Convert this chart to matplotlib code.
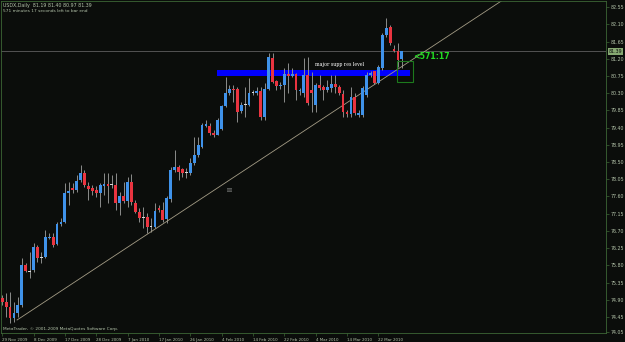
import matplotlib.pyplot as plt
import matplotlib.transforms as mtransforms
from matplotlib.patches import Rectangle
import numpy as np

# daily USDX candles (oldest first)
opens = [74.94, 74.84, 74.71, 74.42, 74.55, 74.76, 75.80, 75.62, 75.67, 76.27,
         75.98, 76.01, 76.51, 76.53, 76.35, 76.87, 76.93, 77.68, 77.82, 77.76,
         78.02, 78.21, 77.87, 77.82, 77.76, 77.68, 77.87, 77.92, 77.89, 77.89,
         77.42, 77.61, 77.48, 77.97, 77.42, 77.19, 77.05, 77.05, 76.80, 76.80,
         77.29, 77.24, 77.00, 77.53, 78.29, 78.37, 78.31, 78.21, 78.21, 78.47,
         78.68, 78.89, 79.44, 79.44, 79.26, 79.20, 79.36, 79.96, 80.30, 80.40,
         80.40, 79.83, 79.98, 79.98, 80.30, 80.30, 80.35, 79.67, 80.40, 81.21,
         80.61, 80.48, 80.51, 80.80, 80.74, 80.80, 80.35, 80.30, 80.77, 80.38,
         79.98, 80.51, 80.46, 80.38, 80.43, 80.53, 80.46, 80.27, 79.80, 79.75,
         80.20, 79.72, 79.72, 80.25, 80.77, 80.87, 80.56, 80.95, 81.82, 82.03,
         81.46, 81.40, 81.19]
highs = [75.02, 75.07, 75.10, 74.84, 74.96, 75.98, 75.85, 76.14, 76.38, 76.33,
         76.14, 76.72, 76.64, 76.64, 76.93, 77.03, 77.95, 77.97, 77.95, 78.16,
         78.42, 78.29, 77.97, 77.89, 77.87, 77.95, 78.21, 78.21, 78.16, 78.21,
         77.71, 77.97, 78.10, 78.18, 77.50, 77.29, 77.32, 77.16, 77.03, 77.42,
         77.37, 77.45, 77.61, 78.37, 78.81, 78.42, 78.34, 78.34, 78.60, 79.15,
         79.15, 79.52, 79.59, 79.52, 79.33, 79.65, 79.98, 80.72, 80.51, 80.51,
         80.46, 80.07, 80.46, 80.69, 80.38, 80.46, 80.46, 80.56, 81.34, 81.34,
         80.64, 80.59, 80.95, 81.08, 80.95, 80.82, 80.43, 81.21, 81.24, 80.85,
         80.56, 80.77, 80.51, 80.64, 80.77, 80.77, 80.51, 80.38, 79.85, 80.46,
         80.30, 79.85, 80.48, 80.85, 80.87, 80.87, 81.03, 81.87, 82.26, 82.08,
         81.56, 81.61, 81.40]
lows = [74.76, 74.44, 74.29, 74.31, 74.44, 74.71, 75.62, 75.46, 75.62, 75.88,
        75.85, 75.98, 76.50, 76.27, 76.32, 76.82, 76.90, 77.37, 77.68, 77.71,
        77.97, 77.84, 77.50, 77.63, 77.58, 77.32, 77.63, 77.42, 77.82, 77.24,
        77.11, 77.42, 77.32, 77.37, 77.16, 76.93, 76.77, 76.64, 76.67, 76.77,
        77.19, 76.93, 76.90, 77.45, 78.23, 78.02, 78.10, 78.08, 78.16, 78.42,
        78.63, 78.86, 79.41, 79.20, 79.15, 79.20, 79.33, 79.93, 80.25, 80.07,
        79.54, 79.78, 79.67, 79.96, 80.25, 80.25, 79.59, 79.59, 80.38, 80.56,
        80.38, 80.40, 80.07, 80.30, 80.72, 80.12, 80.25, 80.20, 79.98, 79.80,
        79.80, 80.38, 80.12, 80.33, 80.33, 80.30, 80.25, 79.67, 79.67, 79.67,
        79.72, 79.67, 79.67, 80.20, 80.72, 80.53, 80.53, 80.90, 81.77, 81.56,
        81.37, 80.98, 80.97]
closes = [74.84, 74.71, 74.42, 74.55, 74.76, 75.80, 75.64, 75.64, 76.27, 75.98,
          76.00, 76.53, 76.55, 76.32, 76.87, 76.93, 77.68, 77.74, 77.76, 78.00,
          78.21, 77.89, 77.79, 77.74, 77.68, 77.89, 77.92, 77.87, 77.89, 77.42,
          77.61, 77.48, 77.97, 77.45, 77.19, 77.03, 77.03, 76.80, 76.82, 77.21,
          77.24, 76.98, 77.55, 78.29, 78.37, 78.23, 78.21, 78.21, 78.47, 78.68,
          78.94, 79.46, 79.49, 79.26, 79.20, 79.59, 79.96, 80.30, 80.40, 80.38,
          79.80, 79.98, 79.98, 80.30, 80.30, 80.35, 79.67, 80.40, 81.24, 80.59,
          80.48, 80.51, 80.80, 80.74, 80.80, 80.38, 80.38, 80.77, 80.04, 80.30,
          80.51, 80.43, 80.38, 80.46, 80.53, 80.46, 80.30, 79.80, 79.75, 80.20,
          79.78, 79.78, 80.43, 80.77, 80.82, 80.56, 80.98, 81.82, 82.00, 81.61,
          81.40, 81.16, 81.39]

date_labels = ['29 Nov 2009', '8 Dec 2009', '17 Dec 2009', '28 Dec 2009', '7 Jan 2010',
               '17 Jan 2010', '26 Jan 2010', '4 Feb 2010', '14 Feb 2010', '22 Feb 2010',
               '4 Mar 2010', '14 Mar 2010', '22 Mar 2010']
date_step = 8
price_ticks = [82.55, 82.10, 81.65, 81.20, 80.75, 80.30, 79.85, 79.40, 78.95, 78.50,
               78.05, 77.60, 77.15, 76.70, 76.25, 75.80, 75.35, 74.90, 74.45, 74.05]

last_price = 81.39
band_low, band_high = 80.74, 80.90
trend_x = [3.8, 121.9]
trend_y = [74.37, 82.34]

bg = '#0b0d0b'
frame = '#3d6636'
txt = '#b4c4aa'
fs = 3.4

fig = plt.figure(figsize=(6.25, 3.42), dpi=100, facecolor=bg)
ax = fig.add_axes([1/625, 9/342, 605/625, 332/342], facecolor=bg)

o = np.array(opens); h = np.array(highs); l = np.array(lows); c = np.array(closes)
idx = np.arange(len(o))
up = c > o + 0.02
down = c < o - 0.02
doji = ~(up | down)

# support/resistance band
ax.add_patch(Rectangle((54.8, band_low), 104 - 54.8, band_high - band_low,
                       facecolor='#0000ff', edgecolor='none', zorder=1))

ax.vlines(idx, l, h, color='#8c8c8c', lw=0.7, zorder=2)
lo = np.minimum(o, c)
hgt = np.maximum(np.abs(c - o), 0.03)
w = 0.72
ax.bar(idx[up], hgt[up], bottom=lo[up], width=w, color='#3f92ea', lw=0, zorder=3)
ax.bar(idx[down], hgt[down], bottom=lo[down], width=w, color='#ea3440', lw=0, zorder=3)
ax.bar(idx[doji], hgt[doji], bottom=lo[doji], width=w, color='#d8d8d8', lw=0, zorder=3)

# trendline from its anchor, running off the top right
slope = (trend_y[1] - trend_y[0]) / (trend_x[1] - trend_x[0])
tx = np.array([trend_x[0], 160])
ax.plot(tx, trend_y[0] + slope * (tx - trend_x[0]), color='#a49c86', lw=0.6, zorder=2)
ax.axhline(last_price, color='#5e5e5e', lw=0.6, zorder=1)

ax.add_patch(Rectangle((100.8, 80.59), 4.0, 0.55, facecolor='none',
                       edgecolor='#1d7a1d', lw=0.8, zorder=4))
ax.text(104.9, 81.27, '<571:17', color='#22dd22', fontsize=5.6, fontweight='bold',
        ha='left', va='center', zorder=5)
ax.text(79.8, 81.06, 'major supp res level', color='white', fontsize=3.4,
        family='DejaVu Serif', ha='left', va='center', zorder=5)
ax.text(58, 77.76, 'III', color='#c8c8c8', fontsize=3.4, family='DejaVu Serif',
        ha='center', va='center', zorder=5)

ax.set_xlim(-0.3, 154.1)
ax.set_ylim(74.03, 82.71)

ax.yaxis.tick_right()
ax.set_yticks(price_ticks)
ax.set_yticklabels(['%.2f' % p for p in price_ticks])
ax.set_xticks(idx[::date_step][:len(date_labels)])
ax.set_xticklabels(date_labels)
for lab in ax.get_xticklabels():
    lab.set_ha('left')
ax.tick_params(axis='both', colors=frame, labelcolor=txt, labelsize=fs,
               length=2.5, width=0.5, pad=1.0)
ax.tick_params(axis='x', labelsize=2.9)

for s in ax.spines.values():
    s.set_color(frame)
    s.set_linewidth(0.6)
    s.set_linestyle((0, (1, 1)))

tr = mtransforms.blended_transform_factory(ax.transAxes, ax.transData)
ax.text(1.004, last_price, '%.2f' % last_price, transform=tr, fontsize=fs,
        color='#0b0d0b', ha='left', va='center',
        bbox=dict(facecolor='#86a872', edgecolor='none', pad=0.5), clip_on=False)

fig.text(3/625, 1 - 5/342, 'USDX,Daily  81.19 81.40 80.97 81.39', color=txt,
         fontsize=fs, va='center')
fig.text(3/625, 1 - 11/342, '571 minutes 17 seconds left to bar end', color=txt,
         fontsize=3.1, va='center')
fig.text(3/625, 1 - 329/342, 'MetaTrader, \u00a9 2001-2009 MetaQuotes Software Corp.',
         color=txt, fontsize=3.1, va='center')

fig.savefig('out.png', dpi=100, facecolor=bg)
